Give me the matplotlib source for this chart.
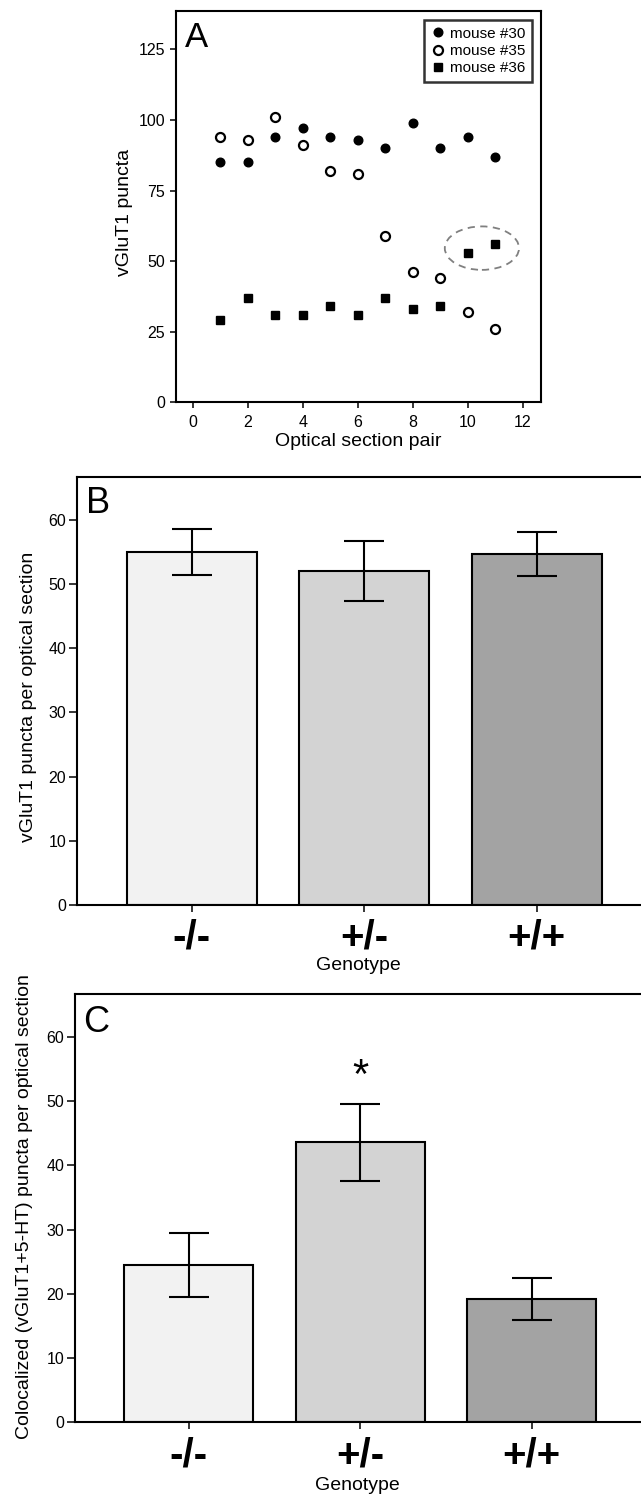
import numpy as np
import matplotlib
matplotlib.use('Agg')
import matplotlib.pyplot as plt
from matplotlib.patches import Ellipse

plt.rcParams['font.family'] = ['Liberation Sans', 'DejaVu Sans']

# Panneau A : puncta vGluT1 par paire de sections optiques
sections = [1, 2, 3, 4, 5, 6, 7, 8, 9, 10, 11]
mouse30 = [85, 85, 94, 97, 94, 93, 90, 99, 90, 94, 87]
mouse35 = [94, 93, 101, 91, 82, 81, 59, 46, 44, 32, 26]
mouse36 = [29, 37, 31, 31, 34, 31, 37, 33, 34, 53, 56]

# ellipse pointillee autour des deux carres (10, 11)
ell_centre = (10.52, 54.6)
ell_w, ell_h = 2.70, 15.4

# Panneaux B et C : moyennes par genotype
genotypes = ['-/-', '+/-', '+/+']
vglut_moy = [55.0, 52.0, 54.7]
vglut_err = [3.6, 4.7, 3.5]
coloc_moy = [24.5, 43.6, 19.2]
coloc_err = [5.0, 6.0, 3.3]
couleurs = ['#f2f2f2', '#d3d3d3', '#a3a3a3']

W, H = 641, 1495
fig = plt.figure(figsize=(W / 100, H / 100), dpi=100)


def axes_px(left, top, right, bottom):
    return fig.add_axes([left / W, 1 - bottom / H, (right - left) / W, (bottom - top) / H])


lw = 1.5

# ---------- A ----------
axA = axes_px(175.7, 10.7, 541, 402.3)
axA.plot(sections, mouse30, 'o', color='black', ms=6.2, label='mouse #30')
axA.plot(sections, mouse35, 'o', mfc='white', mec='black', mew=1.6, ms=6.5, label='mouse #35')
axA.plot(sections, mouse36, 's', color='black', ms=6.2, label='mouse #36')
axA.add_patch(Ellipse(ell_centre, ell_w, ell_h, fill=False, ls=(0, (4, 3)), ec='#808080', lw=1.3))
axA.set_xlim(-0.62, 12.67)
axA.set_ylim(0, 138.7)
axA.set_xticks(range(0, 13, 2))
axA.set_yticks([0, 25, 50, 75, 100, 125])
axA.tick_params(direction='out', length=4, width=1.1, labelsize=11.5, top=False, right=False)
axA.tick_params(axis='x', pad=5)
axA.tick_params(axis='y', pad=3.5)
for s in axA.spines.values():
    s.set_linewidth(lw)
axA.set_xlabel('Optical section pair', fontsize=14)
axA.xaxis.set_label_coords(0.5, -(441.7 - 402.3) / 391.6)
axA.xaxis.label.set_va('center')
axA.set_ylabel('vGluT1 puncta', fontsize=14, va='center')
axA.yaxis.set_label_coords(-0.139, 0.486)
axA.text((185 - 175.7) / 365.3, 1 - (37.5 - 10.7) / 391.6, 'A', fontsize=25,
         va='center', ha='left', transform=axA.transAxes)
leg = axA.legend(loc='upper right', fontsize=11, frameon=True, fancybox=False,
                 edgecolor='black', borderaxespad=0.6, labelspacing=0.22,
                 handletextpad=0.25, handlelength=1.0, borderpad=0.45, markerscale=1.0)
leg.get_frame().set_linewidth(1.8)


# ---------- B et C ----------
def panneau_barres(ax, moy, err, lettre, lettre_pos, ylabel, ylab_xy, xl, xlab_y):
    x = np.arange(len(genotypes))
    ax.bar(x, moy, width=0.752, color=couleurs, edgecolor='black', linewidth=1.5, zorder=2)
    ax.errorbar(x, moy, yerr=err, fmt='none', ecolor='black', elinewidth=1.5,
                capsize=14.4, capthick=1.5, zorder=3)
    ax.set_xlim(*xl)
    ax.set_ylim(0, 66.7)
    ax.set_yticks(range(0, 61, 10))
    ax.set_xticks(x)
    ax.set_xticklabels(genotypes, fontsize=29, fontweight='bold')
    ax.tick_params(direction='out', width=1.1)
    ax.tick_params(axis='y', length=5.5, labelsize=11.5, pad=2.2)
    ax.tick_params(axis='x', length=5, pad=5)
    ax.spines['right'].set_visible(False)
    for s in ['left', 'top', 'bottom']:
        ax.spines[s].set_linewidth(lw)
    ax.set_ylabel(ylabel, fontsize=14, va='center')
    ax.yaxis.set_label_coords(*ylab_xy)
    ax.set_xlabel('Genotype', fontsize=14, va='center')
    ax.xaxis.set_label_coords(0.5, xlab_y)
    ax.text(lettre_pos[0], lettre_pos[1], lettre, fontsize=26, va='center', ha='left',
            transform=ax.transAxes)


axB = axes_px(76.7, 477, 641, 905)
panneau_barres(axB, vglut_moy, vglut_err, 'B', ((86 - 76.7) / 564.3, 1 - (503.5 - 477) / 428),
               'vGluT1 puncta per optical section', (-0.0863, 0.486), (-0.667, 2.605),
               -(965 - 905) / 428)

axC = axes_px(74.7, 994, 641, 1422.3)
panneau_barres(axC, coloc_moy, coloc_err, 'C', ((83 - 74.7) / 566.3, 1 - (1022.5 - 994) / 428.3),
               'Colocalized (vGluT1+5-HT) puncta per optical section', (-0.0878, 0.503),
               (-0.666, 2.638), -(1486 - 1422.3) / 428.3)
axC.text(1, 53.7, '*', fontsize=30, ha='center', va='center')

fig.savefig('out.png', dpi=100)
